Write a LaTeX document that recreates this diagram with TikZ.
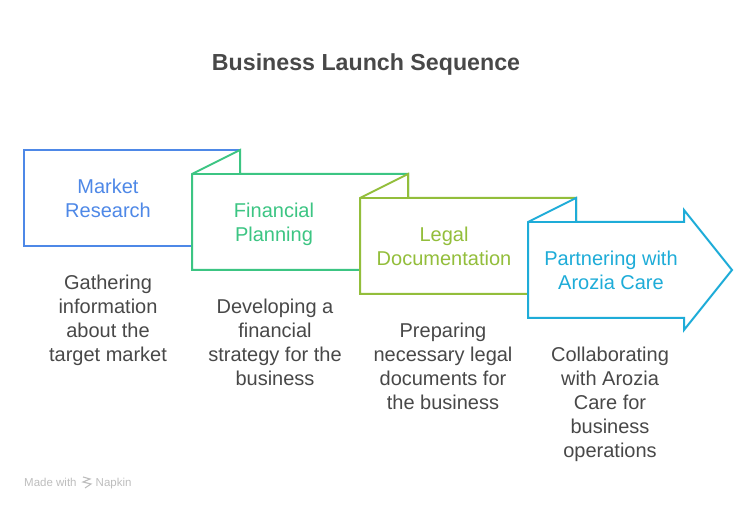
\documentclass[tikz,border=0pt]{standalone}
\usepackage{fontspec}
\setmainfont{Liberation Sans}
\definecolor{cblue}{HTML}{4E88E7}
\definecolor{cgreen}{HTML}{3CC583}
\definecolor{colive}{HTML}{93BE3B}
\definecolor{csky}{HTML}{1EACD8}
\definecolor{ctext}{HTML}{484848}
\definecolor{cmark}{HTML}{BDBDBD}
\tikzset{
  fold/.style={line width=2pt,fill=white,line join=miter},
  lab/.style={align=center,font=\fontsize{20}{24}\selectfont,inner sep=0pt},
  desc/.style={lab,text=ctext},
  marktext/.style={font=\fontsize{11.5}{13}\selectfont,text=cmark,inner sep=0pt,anchor=base west},
}
\begin{document}
\begin{tikzpicture}[x=1pt,y=-1pt]
\useasboundingbox (0,0) rectangle (756,510);
\node[font=\fontsize{23.2}{28}\bfseries\selectfont,text=ctext,inner sep=0pt] (title) at (366,65) {Business Launch Sequence};
% shapes
\draw[fold,draw=cblue] (24,150) -- (240,150) -- (240,246) -- (24,246) -- cycle;
\draw[fold,draw=cgreen] (192,174) -- (240,150) -- (240,174) -- (408,174) -- (408,270) -- (192,270) -- cycle;
\draw[fold,draw=cgreen] (192,174) -- (240,174);
\draw[fold,draw=colive] (360,198) -- (408,174) -- (408,198) -- (576,198) -- (576,294) -- (360,294) -- cycle;
\draw[fold,draw=colive] (360,198) -- (408,198);
\draw[fold,draw=csky] (528,222) -- (576,198) -- (576,222) -- (684,222) -- (684,210) -- (732,270) -- (684,330) -- (684,318) -- (528,318) -- cycle;
\draw[fold,draw=csky] (528,222) -- (576,222);
% labels
\node[lab,text=cblue] (l1) at (108,198) {Market\\Research};
\node[lab,text=cgreen] (l2) at (274,224) {Financial\\Planning};
\node[lab,text=colive] (l3) at (444,246) {Legal\\Documentation};
\node[lab,text=csky] (l4) at (611,270) {Partnering with\\Arozia Care};
\node[desc] (d1) at (108,320) {Gathering\\information\\about the\\target market};
\node[desc] (d2) at (275,342) {Developing a\\financial\\strategy for the\\business};
\node[desc] (d3) at (443,366) {Preparing\\necessary legal\\documents for\\the business};
\node[desc] (d4) at (610,404) {Collaborating\\with Arozia\\Care for\\business\\operations};
% mark
\node[marktext] (m1) at (24,486.5) {Made with};
\draw[cmark,line width=1.1pt] (83,477) -- (90,479) -- (83,482) -- (91,484) -- (85,488);
\node[marktext] (m2) at (95.5,486.5) {Napkin};
\end{tikzpicture}
\end{document}
